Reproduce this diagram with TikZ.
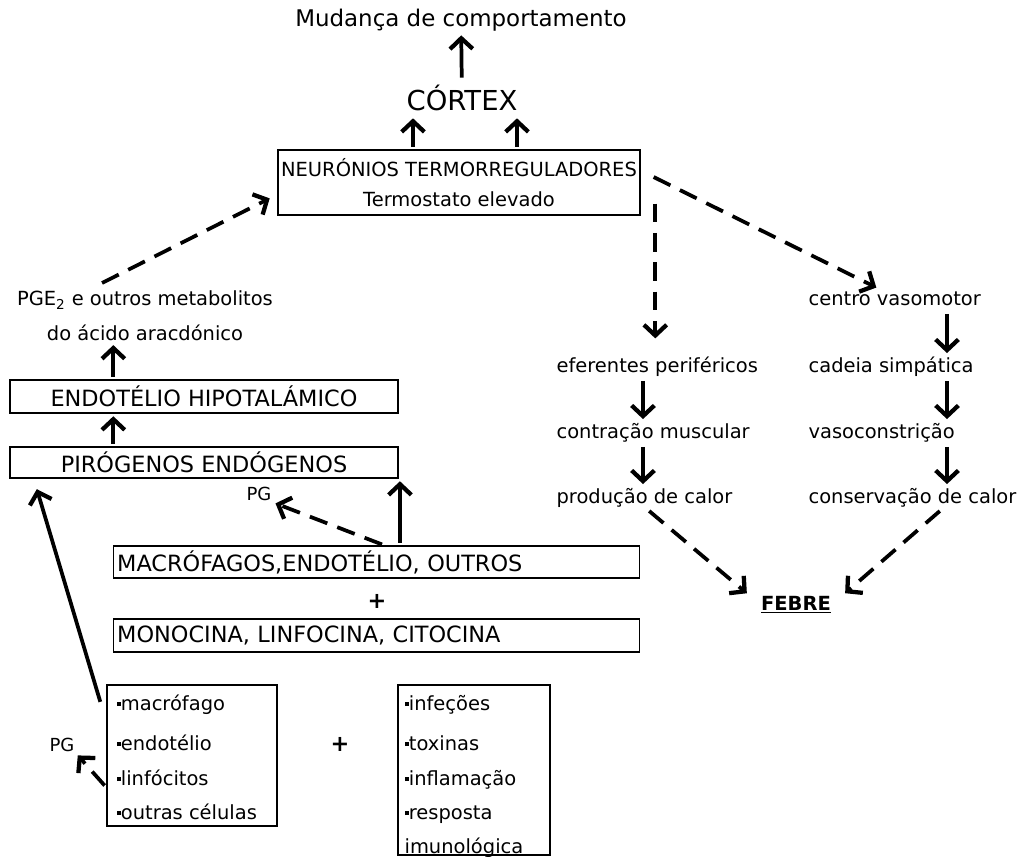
\documentclass[tikz,border=0pt]{standalone}
\usepackage{fontspec}
\setmainfont{DejaVu Sans}
\usetikzlibrary{arrows.meta}

\begin{document}
\begin{tikzpicture}[x=0.75pt, y=-0.75pt]

\tikzstyle{box}=[draw, line width=0.9pt, inner sep=0pt]
\tikzstyle{txt}=[font=\fontsize{14.6}{23}\selectfont, inner sep=1pt]
\tikzstyle{big}=[font=\fontsize{16.8}{20}\selectfont]
\tikzstyle{arr}=[draw, line width=2.8pt, -{Straight Barb[length=8pt, width=17pt, line width=3.2pt]}, shorten <=2pt, shorten >=2pt]
\tikzstyle{darr}=[arr, dash pattern=on 14pt off 8pt]
\tikzstyle{item}=[txt, anchor=west, text height=11pt, text depth=3.5pt]

\useasboundingbox (0,0) rectangle (1030,856);

\newcommand{\sq}{\rule[3pt]{3.2pt}{3.2pt}}

% columns of the vertical arrows on the right
\coordinate (colL) at (643,0);
\coordinate (colR) at (947,0);

\node (m) [txt, font=\fontsize{17.2}{20}\selectfont] at (461, 20) {Mudança de comportamento};
\node (c) [font=\fontsize{20.6}{24}\selectfont] at (462, 98) {CÓRTEX};
\node (n) [box, txt, align=center, minimum width=271.5pt, minimum height=48.75pt] at (459, 182.5)
{NEURÓNIOS TERMORREGULADORES\\Termostato elevado};

\node (pge) [txt, align=center, font=\fontsize{14.6}{26}\selectfont] at (145, 316)
{PGE\textsubscript{2} e outros metabolitos\\do ácido aracdónico};
\node (eh) [box, big, minimum width=291pt, minimum height=24.75pt] at (204, 396.5) {ENDOTÉLIO HIPOTALÁMICO};
\node (pe) [box, big, minimum width=291pt, minimum height=23.25pt] at (204, 462.5) {PIRÓGENOS ENDÓGENOS};

\node (pg1) [txt, font=\fontsize{13.5}{16}\selectfont] at (259, 494) {PG};
\node (mac) [box, big, text width=389pt, inner xsep=3pt, minimum height=24pt, align=left] at (376.5, 562)
{MACRÓFAGOS,ENDOTÉLIO, OUTROS};
\node (p1) [big] at (377, 601) {\textbf{+}};
\node (mon) [box, big, text width=389pt, inner xsep=3pt, minimum height=24.75pt, align=left] at (376.5, 635.5)
{MONOCINA, LINFOCINA, CITOCINA};

\node (lb) [box, minimum width=127.5pt, minimum height=105.75pt] at (192, 755.5) {};
\node (l1) [item] at (115, 705) {\sq macrófago};
\node (l2) [item] at (115, 745) {\sq endotélio};
\node (l3) [item] at (115, 780) {\sq linfócitos};
\node (l4) [item] at (115, 814) {\sq outras células};
\node (pg2) [txt, font=\fontsize{13.5}{16}\selectfont] at (62, 745) {PG};
\node (p2) [big] at (340, 744) {\textbf{+}};

\node (rb) [box, minimum width=114pt, minimum height=127.5pt] at (474, 770) {};
\node (r1) [item] at (403, 705) {\sq infeções};
\node (r2) [item] at (403, 745) {\sq toxinas};
\node (r3) [item] at (403, 780) {\sq inflamação};
\node (r4) [item] at (403, 814) {\sq resposta};
\node (r5) [item] at (403, 848) {imunológica};

\node (ef) [item] at (555, 367) {eferentes periféricos};
\node (cm) [item] at (555, 433) {contração muscular};
\node (pc) [item] at (555, 498) {produção de calor};

\node (cv) [item] at (807, 300) {centro vasomotor};
\node (cs) [item] at (807, 367) {cadeia simpática};
\node (vc) [item] at (807, 433) {vasoconstrição};
\node (cc) [item] at (807, 498) {conservação de calor};

\node (fe) [txt, font=\fontsize{14.6}{18}\selectfont] at (796, 605) {\underline{\textbf{FEBRE}}};

% solid arrows
\path [arr] (c) -- (m);
\path [arr] ([xshift=-34.5pt]n.north) -- ([xshift=-34.5pt]n.north |- c.south);
\path [arr] ([xshift=43.5pt]n.north) -- ([xshift=43.5pt]n.north |- c.south);
\path [arr] ([xshift=-68pt]eh.north) -- ([xshift=-68pt]eh.north |- pge.south);
\path [arr] ([xshift=-68pt]pe.north) -- ([xshift=-68pt]eh.south);
\path [arr] ([xshift=17.6pt]mac.north) -- ([xshift=17.6pt]mac.north |- pe.south);
\path [arr] ([xshift=-4pt, yshift=-15pt]lb.north west) -- ([xshift=20pt, yshift=-6pt]pe.south west);

\path [arr] (ef.south -| colL) -- (cm.north -| colL);
\path [arr] (cm.south -| colL) -- (pc.north -| colL);
\path [arr] (cv.south -| colR) -- (cs.north -| colR);
\path [arr] (cs.south -| colR) -- (vc.north -| colR);
\path [arr] (vc.south -| colR) -- (cc.north -| colR);

% dashed arrows
\path [darr] ([xshift=-34pt, yshift=4pt]pge.north) -- ([xshift=-4pt, yshift=-11pt]n.west);
\path [darr] ([xshift=6pt]mac.north) -- (pg1.south east);
\path [darr] ([yshift=-24pt]lb.west) -- (pg2.south east);
\path [darr] ([xshift=11pt, yshift=11pt]n.south east) -- ([xshift=11pt, yshift=11pt]n.south east |- ef.north);
\path [darr] ([xshift=8pt, yshift=5pt]n.east) -- ([xshift=-12pt]cv.north);
\path [darr] ([xshift=2pt]pc.south) -- ([xshift=-8pt]fe.north west);
\path [darr] ([xshift=22pt]cc.south) -- ([xshift=8pt]fe.north east);

\end{tikzpicture}
\end{document}
